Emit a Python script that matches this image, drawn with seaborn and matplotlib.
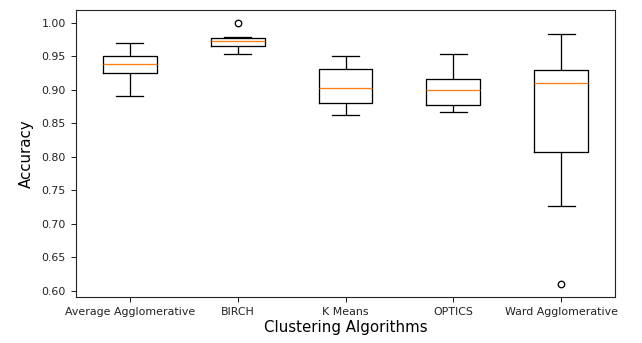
import pandas as pd
import seaborn as sb
import matplotlib.pyplot as plt

# ------------------ Datos ------------------
algoritmos = ["Average Agglomerative", "BIRCH", "K Means", "OPTICS", "Ward Agglomerative"]

acc_average = [0.891, 0.912, 0.926, 0.933, 0.939, 0.945, 0.951, 0.962, 0.970]
acc_birch = [0.953, 0.960, 0.966, 0.970, 0.973, 0.975, 0.977, 0.979, 1.000]
acc_kmeans = [0.863, 0.872, 0.880, 0.891, 0.903, 0.918, 0.932, 0.942, 0.951]
acc_optics = [0.867, 0.873, 0.878, 0.889, 0.900, 0.909, 0.917, 0.935, 0.953]
acc_ward = [0.610, 0.726, 0.807, 0.870, 0.910, 0.920, 0.930, 0.960, 0.983]

valores = [acc_average, acc_birch, acc_kmeans, acc_optics, acc_ward]

df = pd.DataFrame({
    "Algoritmo": [a for a, v in zip(algoritmos, valores) for _ in v],
    "Accuracy": [x for v in valores for x in v],
})

# ------------------ Grafica ------------------
fig = plt.figure(figsize=(642 / 72, 343 / 72), dpi=72)
ax = fig.add_axes([76 / 642, 1 - 297 / 343, (615 - 76) / 642, (297 - 10) / 343])

sb.boxplot(
    data=df, x="Algoritmo", y="Accuracy", order=algoritmos, ax=ax,
    fill=False, color="black", width=0.5, whis=1.5, linewidth=1.3,
    medianprops={"color": "#ff7f0e", "linewidth": 1.3},
    flierprops={"marker": "o", "markerfacecolor": "none",
                "markeredgecolor": "black", "markersize": 6.5,
                "markeredgewidth": 1.3},
)

ax.set_yticks([0.60, 0.65, 0.70, 0.75, 0.80, 0.85, 0.90, 0.95, 1.00])
ax.set_yticklabels([f"{t:.2f}" for t in ax.get_yticks()])
ax.tick_params(labelsize=11, length=5, width=1, pad=5, direction="out", colors="#222222")
ax.set_xlabel("Clustering Algorithms", fontsize=15, labelpad=3)
ax.set_ylabel("Accuracy", fontsize=15, labelpad=8)
for s in ax.spines.values():
    s.set_color("#222222")
    s.set_linewidth(1.1)

fig.savefig("out.png", dpi=72)
